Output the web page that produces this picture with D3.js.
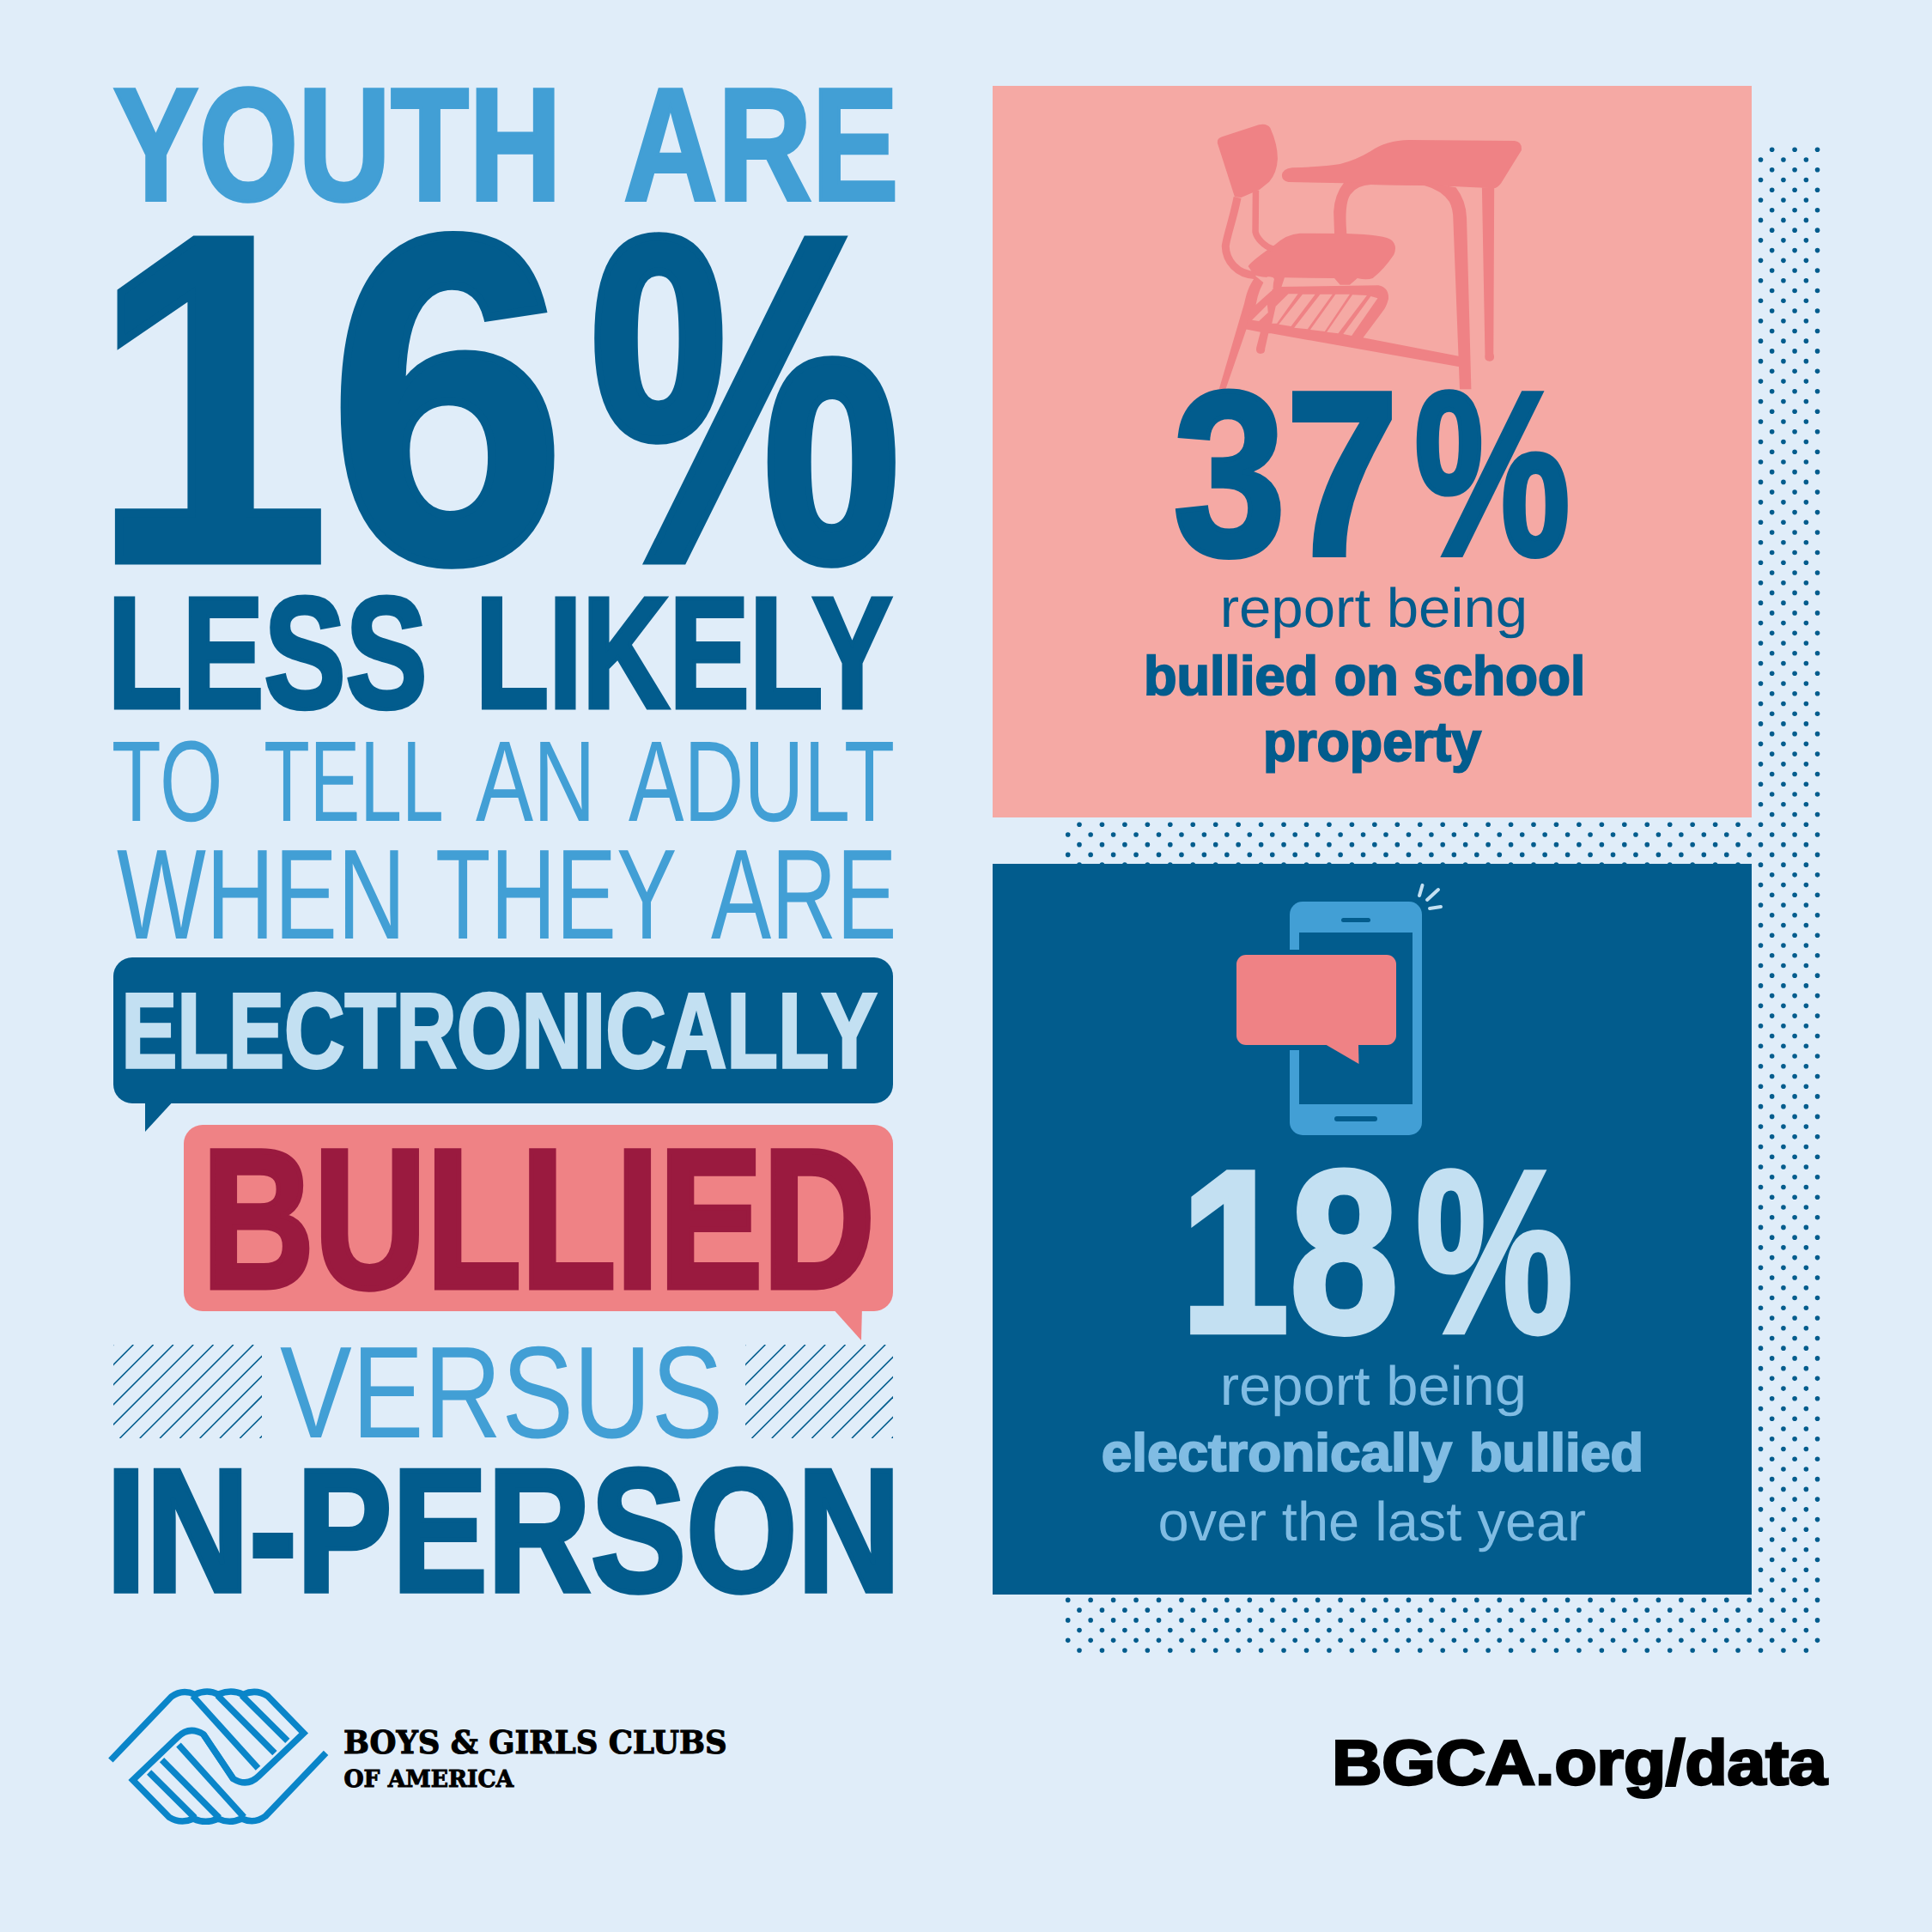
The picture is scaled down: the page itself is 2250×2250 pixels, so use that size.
<!DOCTYPE html>
<html>
<head>
<meta charset="utf-8">
<script src="https://cdn.jsdelivr.net/npm/d3@7"></script>
<style>
  html, body { margin: 0; padding: 0; background: #e0edf9; }
  svg { display: block; }
  text { font-kerning: normal; text-rendering: geometricPrecision; }
</style>
</head>
<body>
<div id="canvas"></div>
<script>
// values and wording
const headlineStat = ['16', '%'];
const schoolStat = ['37', '%'];
const phoneStat = ['18', '%'];
const youthWords = ['YOUTH', 'ARE'];
const likelyWords = ['LESS', 'LIKELY'];
const adultWords = ['TO', 'TELL', 'AN', 'ADULT'];
const whenWords = ['WHEN', 'THEY', 'ARE'];
const singleWords = ['ELECTRONICALLY', 'BULLIED', 'VERSUS', 'IN-PERSON'];
const schoolLines = ['report being', 'bullied on school', 'property'];
const phoneLines = ['report being', 'electronically bullied', 'over the last year'];
const logoLines = ['BOYS & GIRLS CLUBS', 'OF AMERICA'];
const siteLink = 'BGCA.org/data';

// constants
const size = 2250;
const bg = '#e0edf9';
const pinkLight = '#f5a9a4';
const pinkMid = '#ef8285';
const navy = '#025c8d';
const blue = '#429fd5';
const pale = '#c3e0f2';
const sky = '#80bce3';
const wine = '#9a1a3f';
const logoBlue = '#0a85c9';
const narrow = '"Liberation Sans Narrow", "Liberation Sans"';
const sans = '"Liberation Sans"';

const svg = d3.select('#canvas').append('svg')
    .attr('width', size).attr('height', size)
    .attr('viewBox', `0 0 ${size} ${size}`);
svg.append('rect').attr('width', size).attr('height', size).attr('fill', bg);

const ctx = document.createElement('canvas').getContext('2d');
ctx.fontKerning = 'normal';
ctx.textRendering = 'geometricPrecision';

// Puts a string exactly into an ink box, stretching it as needed
function fitText(str, box, fill, font, weight, heavy = 0) {
    const [x0, y0, x1, y1] = box;
    ctx.font = `${weight} 200px ${font}`;
    const m = ctx.measureText(str);
    const left = -m.actualBoundingBoxLeft;
    const right = m.actualBoundingBoxRight;
    const top = -m.actualBoundingBoxAscent;
    const bottom = m.actualBoundingBoxDescent;
    const sx = (x1 - x0 - heavy) / (right - left);
    const sy = (y1 - y0 - heavy) / (bottom - top);
    const t = svg.append('text')
        .text(str)
        .attr('font-family', font)
        .attr('font-weight', weight)
        .attr('font-size', 200)
        .attr('fill', fill)
        .attr('transform', `translate(${x0 + heavy / 2 - left * sx},${y0 + heavy / 2 - top * sy}) scale(${sx},${sy})`);
    if (heavy > 0) {
        t.attr('stroke', fill)
            .attr('stroke-width', heavy / Math.sqrt(sx * sy))
            .attr('stroke-linejoin', 'miter');
    }
    return t;
}

// One text made of parts, each part stretched to its own horizontal ink span.
// With joiner ' ' the parts read as words, with '' as one token (16%)
function fitParts(parts, spans, y0, y1, fill, fonts, weight, heavy, joiner) {
    const measured = parts.map((p, i) => {
        ctx.font = `${weight} 200px ${fonts[i]}`;
        return ctx.measureText(p);
    });
    const asc = d3.max(measured, m => m.actualBoundingBoxAscent);
    const desc = d3.max(measured, m => m.actualBoundingBoxDescent);
    const sy = (y1 - y0 - heavy) / (asc + desc);
    const t = svg.append('text')
        .attr('font-size', 200)
        .attr('font-weight', weight)
        .attr('fill', fill)
        .attr('transform', `translate(0,${y0 + heavy / 2 + asc * sy}) scale(${sy})`);
    if (heavy > 0) t.attr('stroke', fill).attr('stroke-width', heavy / sy);
    parts.forEach((p, i) => {
        const m = measured[i];
        const ink = m.actualBoundingBoxRight + m.actualBoundingBoxLeft;
        const k = (spans[i][1] - spans[i][0] - heavy) / sy / ink;
        t.append('tspan')
            .attr('font-family', fonts[i])
            .attr('x', (spans[i][0] + heavy / 2) / sy + m.actualBoundingBoxLeft * k)
            .attr('textLength', m.width * k)
            .attr('lengthAdjust', 'spacingAndGlyphs')
            .text(p);
        if (joiner && i < parts.length - 1) t.node().appendChild(document.createTextNode(joiner));
    });
    return t;
}

// dotted backdrop behind the two panels
const dotRows = d3.range(0, 150);
const dots = [];
dotRows.forEach(r => {
    const even = r % 2 === 0;
    d3.range(0, even ? 34 : 33).forEach(c => {
        dots.push([(even ? 1243.7 : 1257) + 26.45 * c, 174.3 + 11.73 * r]);
    });
});
svg.append('g').attr('fill', navy)
    .selectAll('circle').data(dots).join('circle')
    .attr('cx', d => d[0]).attr('cy', d => d[1]).attr('r', 2.8);

// panels
svg.append('rect').attr('x', 1156).attr('y', 100).attr('width', 884).attr('height', 852).attr('fill', pinkLight);
svg.append('rect').attr('x', 1156).attr('y', 1006).attr('width', 884).attr('height', 851).attr('fill', navy);

// school desk icon, traced in zoomed crop units
const chair = svg.append('g').attr('transform', `translate(1150,90) scale(${1 / 2.24},${1 / 3})`);
const chairFill = [
    'M600 230 Q598 214 612 208 L708 166 Q730 160 738 178 Q757 235 757 285 Q755 335 735 365 L710 392 L662 420 L645 418 Z',
    'M680 660 Q690 640 750 585 Q780 548 815 545 L935 546 Q1040 550 1055 570 Q1070 590 1060 620 Q1035 670 1005 702 Q990 710 965 702 L945 725 L920 725 L905 702 L775 700 L765 740 L745 740 L745 700 Q715 700 695 690 Z',
    'M768 342 Q770 320 795 316 Q880 312 920 303 Q960 290 1000 258 Q1040 220 1100 219 L1375 222 Q1395 225 1393 255 L1340 370 Q1330 388 1320 388 L1225 382 L1130 378 L1000 375 L930 370 L785 366 Q768 362 768 342 Z',
    'M930 368 Q905 410 903 470 L905 546 L937 546 Q930 430 950 405 Q965 378 1000 375 L1140 378 Q1185 395 1205 435 Q1215 460 1215 500 L1232 1090 L1262 1090 L1250 490 Q1248 430 1222 385 L1130 365 Z',
    'M1290 385 L1298 970 Q1295 990 1310 992 Q1326 990 1320 965 L1322 385 Z',
    'M700 695 C680 730 675 760 670 790 L603 1095 L620 1095 L675 882 L700 800 L745 745 Z',
    'M760 732 L1020 727 Q1048 735 1046 775 Q1040 805 1030 820 L980 910 L1232 975 L1232 1012 L740 895 L733 895 L724 948 Q725 966 712 966 Q698 964 702 942 L712 890 L672 880 L690 800 L745 740 Z'
];
chair.selectAll('path.solid').data(chairFill).join('path')
    .attr('class', 'solid').attr('d', d => d).attr('fill', pinkMid);
const chairHoles = [
    'M730 697 Q745 695 748 705 L742 745 L700 795 Q708 735 730 697 Z',
    'M730 795 L732 822 L708 852 L690 848 Z',
    'M785 757 L810 757 L755 860 L742 860 L752 800 Z',
    'M822 758 L855 758 L792 870 L760 863 Z',
    'M868 758 L900 758 L835 880 L800 875 Z',
    'M908 758 L945 758 L880 888 L842 882 Z',
    'M952 760 L990 762 L915 895 L885 890 Z',
    'M1000 765 L1018 772 L950 903 L928 897 Z'
];
chair.selectAll('path.hole').data(chairHoles).join('path')
    .attr('class', 'hole').attr('d', d => d).attr('fill', pinkLight);
chair.append('path')
    .attr('d', 'M652 420 C640 500 625 550 621 590 C622 640 650 690 700 692')
    .attr('fill', 'none').attr('stroke', pinkMid).attr('stroke-width', 9).attr('vector-effect', 'non-scaling-stroke');
chair.append('path')
    .attr('d', 'M700 395 L699 540 C702 560 720 590 745 600')
    .attr('fill', 'none').attr('stroke', pinkMid).attr('stroke-width', 7.5).attr('vector-effect', 'non-scaling-stroke');

// phone icon
const phone = svg.append('g');
phone.append('rect').attr('x', 1502).attr('y', 1050).attr('width', 154).attr('height', 272).attr('rx', 15).attr('fill', blue);
phone.append('rect').attr('x', 1513).attr('y', 1086).attr('width', 132).attr('height', 200).attr('fill', navy);
phone.append('rect').attr('x', 1562).attr('y', 1069).attr('width', 34).attr('height', 5).attr('rx', 2.5).attr('fill', navy);
phone.append('rect').attr('x', 1554).attr('y', 1300).attr('width', 50).attr('height', 6).attr('rx', 3).attr('fill', navy);
phone.append('rect').attr('x', 1500).attr('y', 1106).attr('width', 16).attr('height', 117).attr('fill', navy);
phone.append('rect').attr('x', 1440).attr('y', 1112).attr('width', 186).attr('height', 105).attr('rx', 11).attr('fill', pinkMid);
phone.append('path').attr('d', 'M1543 1216 L1582 1216 L1582.5 1239 Z').attr('fill', pinkMid);
phone.append('path')
    .attr('d', 'M1656.5 1031 L1653 1043 M1675 1036 L1662 1048 M1678 1056 L1665 1058')
    .attr('stroke', pale).attr('stroke-width', 4).attr('stroke-linecap', 'round');

// speech bubbles
svg.append('rect').attr('x', 132).attr('y', 1115).attr('width', 908).attr('height', 170).attr('rx', 22).attr('fill', navy);
svg.append('path').attr('d', 'M169 1280 L204 1280 L169 1318 Z').attr('fill', navy);
svg.append('rect').attr('x', 214).attr('y', 1310).attr('width', 826).attr('height', 217).attr('rx', 22).attr('fill', pinkMid);
svg.append('path').attr('d', 'M968 1522 L1004 1522 L1003 1561 Z').attr('fill', pinkMid);

// hatching either side of VERSUS
function hatch(x0, y0, x1, y1) {
    const id = `clip${x0}`;
    svg.append('clipPath').attr('id', id).append('rect')
        .attr('x', x0).attr('y', y0).attr('width', x1 - x0).attr('height', y1 - y0);
    svg.append('g').attr('clip-path', `url(#${id})`)
        .selectAll('line').data(d3.range(0, 14)).join('line')
        .attr('x1', i => x0 + i * 23.3 - (y1 - y0))
        .attr('y1', y1)
        .attr('x2', i => x0 + i * 23.3)
        .attr('y2', y0)
        .attr('stroke', navy).attr('stroke-width', 1.6);
}
hatch(132, 1566, 305, 1675);
hatch(868, 1566, 1040, 1675);

// headline
const statFonts = [sans, narrow];
fitParts(youthWords, [[132, 646], [727, 1043]], 100, 237, blue, [narrow, narrow], 'bold', 4, ' ');
fitParts(headlineStat, [[132, 646], [689, 1045]], 268, 663, navy, statFonts, 'bold', 10, '');
fitParts(likelyWords, [[132, 495], [560, 1040]], 692, 828, navy, [narrow, narrow], 'bold', 5, ' ');
fitParts(adultWords, [[132, 255], [309, 514], [554, 686], [732, 1040]], 862, 957, blue, adultWords.map(() => narrow), 'normal', 0, ' ');
fitParts(whenWords, [[136, 464], [509, 786], [828, 1040]], 990, 1093, blue, whenWords.map(() => narrow), 'normal', 0, ' ');
fitText(singleWords[0], [146, 1155, 1022, 1246], pale, narrow, 'bold', 3);
fitText(singleWords[1], [244, 1337, 1015, 1504], wine, narrow, 'bold', 6);
fitText(singleWords[2], [326, 1568, 837, 1676], blue, narrow, 'normal');
fitText(singleWords[3], [132, 1708, 1040, 1858], navy, narrow, 'bold', 5);

// panel texts
fitParts(schoolStat, [[1368, 1622], [1648, 1827]], 452, 653, navy, statFonts, 'bold', 6, '');
fitText(schoolLines[0], [1425, 683, 1775, 743], navy, narrow, 'normal');
fitParts(schoolLines[1].split(' '), [[1335, 1532], [1555, 1626], [1647, 1843]], 762, 811, navy, [narrow, narrow, narrow], 'bold', 2, ' ');
fitText(schoolLines[2], [1474, 843, 1726, 901], navy, narrow, 'bold', 2);

fitParts(phoneStat, [[1385, 1626], [1650, 1830]], 1359, 1557, pale, statFonts, 'bold', 6, '');
fitText(phoneLines[0], [1425, 1589, 1774, 1649], sky, narrow, 'normal');
fitParts(phoneLines[1].split(' '), [[1284, 1692], [1714, 1911]], 1667, 1727, sky, [narrow, narrow], 'bold', 2, ' ');
fitText(phoneLines[2], [1351, 1747, 1846, 1807], sky, narrow, 'normal');

// footer
fitText(siteLink, [1555, 2023, 2130, 2095], '#000', sans, 'bold', 3);
fitText(logoLines[0], [401, 2014, 845, 2043], '#000', '"DejaVu Serif"', 'bold', 1);
fitText(logoLines[1], [401, 2060, 599, 2082], '#000', '"DejaVu Serif"', 'bold', 1);

const logo = svg.append('g').attr('transform', `translate(100,1940) scale(${1 / 2.01},${1 / 3})`);
const handPaths = [
    'M58 330 L200 108 Q226 80 255 100 Q285 80 310 100 Q340 80 368 100 Q398 80 425 105 L510 235 L405 385 Q378 425 345 395 L275 239',
    'M250 105 L403 358',
    'M308 103 L442 305',
    'M365 103 L472 262'
];
[0, 180].forEach(angle => {
    logo.append('g')
        .attr('transform', `rotate(${angle},310,317)`)
        .selectAll('path').data(handPaths).join('path')
        .attr('d', d => d)
        .attr('fill', 'none')
        .attr('stroke', logoBlue)
        .attr('stroke-width', 7.5)
        .attr('vector-effect', 'non-scaling-stroke');
});
</script>
</body>
</html>
